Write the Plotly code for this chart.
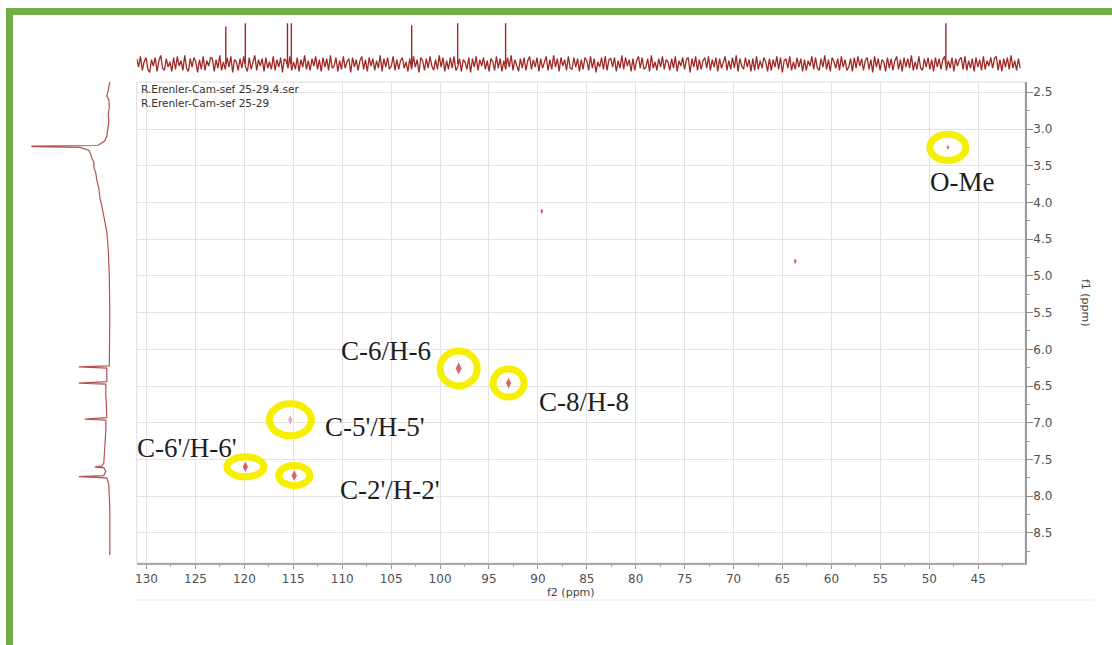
import numpy as np
import plotly.graph_objects as go

W, H = 1112, 645

# ---------------- data ----------------
peak_labels = ["O-Me", "C-6/H-6", "C-8/H-8", "C-5'/H-5'", "C-6'/H-6'", "C-2'/H-2'"]
peak_c = [48.1, 98.1, 93.0, 115.3, 119.9, 114.9]      # f2 (13C, ppm)
peak_h = [3.25, 6.26, 6.46, 6.96, 7.60, 7.72]         # f1 (1H, ppm)

weak_c = [89.6, 63.7]
weak_h = [4.12, 4.80]

c13_peaks = [121.9, 119.9, 115.6, 115.2, 102.9, 98.2, 93.3, 48.3]
c13_heights = [3.5, 3.8, 3.8, 3.8, 3.6, 3.8, 3.8, 3.8]
c13_noise = [
    0.5, -0.3, 0.7, -0.6, 0.2, 0.6, -0.5, -0.8, 0.4, -0.2, 0.6, -0.7, 0.3, 0.8, -0.4, -0.6, 0.5, -0.3, 0.2, -0.7, 0.6, -0.5, 0.7, -0.2,
    0.3, -0.6, 0.8, -0.4, -0.7, 0.5, -0.3, 0.6, 0.2, -0.8, 0.4, -0.5, 0.7, -0.6, 0.3, -0.2, 0.6, 0.5, -0.7, 0.4, -0.4, 0.8, -0.6, 0.2,
    -0.5, 0.6, -0.3, 0.7, -0.8, 0.4, 0.2, -0.6, 0.5, -0.4, 0.7, -0.3, -0.7, 0.6, -0.5, 0.3, 0.8, -0.6, 0.4, -0.2, 0.5, -0.7, 0.6, -0.4,
    0.2, -0.5, 0.7, -0.6, 0.4, -0.3, 0.6, -0.8, 0.5, 0.3, -0.4, 0.7, -0.6, 0.2, -0.5, 0.6, -0.7, 0.4, -0.3, 0.8, -0.5, 0.3, -0.6, 0.5,
    -0.2, 0.7, -0.5, 0.4, -0.7, 0.6, -0.3, 0.5, -0.6, 0.8, -0.4, -0.2, 0.6, -0.7, 0.3, -0.5, 0.7, -0.4, 0.2, 0.5, -0.8, 0.6, -0.3, 0.4,
    -0.6, 0.3, 0.7, -0.5, 0.4, -0.7, 0.6, -0.2, 0.5, -0.6, 0.3, -0.4, 0.8, -0.7, 0.5, -0.3, 0.6, -0.5, -0.2, 0.7, -0.6, 0.4, -0.5, 0.3,
    0.6, -0.4, 0.2, -0.7, 0.5, -0.5, 0.7, -0.3, 0.4, -0.8, 0.6, 0.3, -0.6, 0.5, -0.4, 0.7, -0.2, -0.6, 0.4, -0.5, 0.8, -0.3, 0.6, -0.7,
    0.3, -0.5, 0.6, -0.4, 0.7, -0.6, -0.3, 0.5, -0.7, 0.4, 0.2, -0.5, 0.6, -0.8, 0.5, -0.3, 0.7, -0.6, 0.4, -0.2, 0.6, -0.5, 0.3, -0.7,
    0.5, 0.2, -0.6, 0.7, -0.4, 0.5, -0.7, 0.3, -0.5, 0.6, -0.3, 0.8, -0.6, 0.4, -0.2, -0.7, 0.5, -0.4, 0.6, -0.6, 0.3, 0.7, -0.5, 0.4,
    -0.3, 0.6, -0.7, 0.5, -0.4, 0.2, 0.7, -0.6, 0.4, -0.5, 0.8, -0.3, 0.5, -0.7, 0.6, -0.2, 0.4, -0.6, 0.7, -0.4, -0.5, 0.6, -0.3, 0.5,
    -0.7, 0.4, -0.5, 0.6, 0.3, -0.6, 0.7, -0.4, 0.5, -0.8, 0.2, -0.3, 0.6, -0.5, 0.7, -0.6, 0.4, 0.5, -0.3, 0.6, -0.7, 0.3, -0.4, 0.8,
    -0.5, 0.6, -0.2, 0.4, -0.7, 0.5, -0.6, 0.3, 0.7, -0.4, 0.6, -0.5, -0.3, 0.5, -0.7, 0.8, -0.4, 0.2, -0.6, 0.5, -0.3, 0.7, -0.5, 0.4,
    0.2, -0.6, 0.5, -0.4, 0.7, -0.7, 0.3, -0.2, 0.6, -0.5, 0.4, 0.6, -0.8, 0.5, -0.3, 0.7, -0.6, 0.4, -0.5, 0.3, 0.6, -0.4, 0.7, -0.6,
    0.4, -0.3, 0.6, -0.7, 0.5, -0.4, 0.2, 0.7, -0.6, 0.3, -0.5, 0.6, -0.4, 0.8, -0.7, 0.5, -0.2, -0.5, 0.6, -0.3, 0.4, -0.7, 0.5, -0.6,
    0.7, -0.5, 0.3, -0.4, 0.6, 0.2, -0.7, 0.5, -0.6, 0.4, -0.3, 0.7, -0.5, 0.6, -0.8, 0.3, 0.5, -0.4, 0.7, -0.6, 0.2, -0.5, 0.6, -0.3,
    0.5, -0.7, 0.4, -0.6, 0.3, -0.2, 0.7, -0.5, 0.6, -0.4, -0.6, 0.5, -0.3, 0.8, -0.5, 0.4, -0.7, 0.6, 0.2, -0.4, 0.5, -0.6, 0.7, -0.3,
    0.4, -0.6, -0.3, 0.5, -0.7, 0.6, -0.4, 0.7, -0.2, 0.5, -0.6, 0.3, 0.6, -0.5, 0.4, -0.8, 0.7, -0.3, 0.5, -0.6, 0.4, 0.2, -0.7, 0.6,
    -0.4, 0.5, -0.6, 0.3, 0.7, -0.5, 0.4, -0.7, 0.6, -0.3, 0.5, -0.4, 0.8, -0.6, 0.2, -0.5, 0.7, -0.4, -0.6, 0.5, -0.3, 0.6, -0.5, 0.4,
    -0.7, 0.6, -0.3, 0.5, -0.5, 0.4, 0.7, -0.6, 0.3, -0.4, 0.6, -0.7, 0.5, -0.2, 0.4, 0.6, -0.5, 0.7, -0.6, 0.3, -0.4, 0.5, -0.7, 0.6,
    -0.3, 0.4, -0.6, 0.7, -0.5, 0.3, -0.2, 0.6, -0.4, 0.5, 0.7, -0.6, 0.4, -0.7, 0.5, -0.3, 0.6, -0.5, 0.8, -0.4, 0.3, -0.6, 0.5, -0.4,
]

h1_ppm = [2.36, 2.45, 2.50, 2.55, 2.60, 2.70, 2.80, 2.90, 3.00, 3.10, 3.16, 3.20, 3.225, 3.232, 3.242, 3.25,
          3.29, 3.35, 3.40, 3.45, 3.52, 3.60, 3.70, 3.80, 3.93, 4.05, 4.24, 4.40, 4.65, 5.00, 5.50, 6.00,
          6.20, 6.225, 6.24, 6.255, 6.35, 6.44, 6.46, 6.475, 6.60, 6.80, 6.93, 6.95, 6.965, 7.10, 7.30,
          7.45, 7.55, 7.59, 7.60, 7.615, 7.66, 7.72, 7.735, 7.75, 7.85, 8.00, 8.20, 8.80]
h1_int = [0, 1, 2, 3, 1, 0.5, 1.5, 1, 2, 3, 5, 9, 12, 78, 78, 30,
          21, 19, 18, 16, 16, 14, 13, 11, 10, 8, 5, 3, 1.5, 0.5, 0, 0,
          0.5, 0.5, 31, 3, 3, 3, 31, 4, 4, 3, 3, 25, 4, 4, 5,
          5, 6, 8, 15, 6, 4, 6, 31, 3, 1, 0.5, 0, 0]

x_ticks = [130, 125, 120, 115, 110, 105, 100, 95, 90, 85, 80, 75, 70, 65, 60, 55, 50, 45]
y_ticks = [2.5, 3.0, 3.5, 4.0, 4.5, 5.0, 5.5, 6.0, 6.5, 7.0, 7.5, 8.0, 8.5]
dataset_lines = ["R.Erenler-Cam-sef 25-29.4.ser", "R.Erenler-Cam-sef 25-29"]

# ---------------- layout helpers ----------------
def px(x):
    return x / W


def py(y):
    return 1 - y / H


X_RANGE = [131.0, 40.2]
Y_RANGE = [8.91, 2.36]
X_DOM = [px(135), px(1025)]
Y_DOM = [py(563), py(82)]

label_x = [46.7, 105.5, 85.3, 106.6, 125.9, 105.1]
label_y = [3.72, 6.02, 6.72, 7.06, 7.34, 7.92]
ring_w = [36, 37, 31, 42, 37, 31]
ring_h = [26, 35, 28, 32, 20, 20]
spot_size = [5, 10, 9, 8, 9, 9]
spot_col = ["#c8282e", "#c8282e", "#c8282e", "#e58a98", "#c8282e", "#c8282e"]

SPEC = "#a02828"

fig = go.Figure()

# top 13C projection
noise_x = np.linspace(131.0, 40.7, len(c13_noise))
fig.add_trace(go.Scatter(x=noise_x, y=c13_noise, mode="lines",
                         line=dict(color=SPEC, width=1.3), xaxis="x2", yaxis="y2",
                         hoverinfo="skip", showlegend=False))
pk_x, pk_y = [], []
for c, h in zip(c13_peaks, c13_heights):
    pk_x += [c, c, None]
    pk_y += [0, h, None]
fig.add_trace(go.Scatter(x=pk_x, y=pk_y, mode="lines",
                         line=dict(color=SPEC, width=1.4), xaxis="x2", yaxis="y2",
                         hoverinfo="skip", showlegend=False))

# left 1H projection
fig.add_trace(go.Scatter(x=h1_int, y=h1_ppm, mode="lines",
                         line=dict(color="#b8504f", width=1.2), xaxis="x3", yaxis="y3",
                         hoverinfo="skip", showlegend=False))

# cross peaks
fig.add_trace(go.Scatter(x=peak_c, y=peak_h, mode="markers",
                         marker=dict(symbol="diamond-tall", size=spot_size, color=spot_col),
                         showlegend=False, hoverinfo="skip"))
fig.add_trace(go.Scatter(x=weak_c, y=weak_h, mode="markers",
                         marker=dict(symbol="diamond-tall", size=4, color="#e05050"),
                         showlegend=False, hoverinfo="skip"))

shapes = []
# outer green frame
shapes.append(dict(type="rect", xref="paper", yref="paper",
                   x0=px(7.5), x1=1.05, y0=-0.05, y1=py(11.5),
                   line=dict(color="#70ad47", width=7), layer="below"))
# plot box
shapes.append(dict(type="rect", xref="paper", yref="paper",
                   x0=X_DOM[0], x1=X_DOM[1], y0=Y_DOM[0], y1=Y_DOM[1],
                   line=dict(color="#dcdcdc", width=1), layer="below"))
# faint divider under the axis
shapes.append(dict(type="line", xref="paper", yref="paper",
                   x0=px(133), x1=px(1093), y0=py(600), y1=py(600),
                   line=dict(color="#f0f0f0", width=1.5), layer="below"))
# yellow rings
for c, h, w, hh in zip(peak_c, peak_h, ring_w, ring_h):
    shapes.append(dict(type="circle", xref="x", yref="y",
                       xsizemode="pixel", ysizemode="pixel",
                       xanchor=c, yanchor=h,
                       x0=-w / 2, x1=w / 2, y0=-hh / 2, y1=hh / 2,
                       line=dict(color="#f7ef00", width=7), layer="above"))

annotations = []
for t, lx, ly in zip(peak_labels, label_x, label_y):
    annotations.append(dict(x=lx, y=ly, xref="x", yref="y", text=t, showarrow=False,
                            font=dict(family="Liberation Serif", size=27, color="#1e1e1e"),
                            xanchor="center", yanchor="middle"))
for i, t in enumerate(dataset_lines):
    annotations.append(dict(x=px(137), y=py(89 + 13.5 * i), xref="paper", yref="paper",
                            text=t, showarrow=False, xanchor="left", yanchor="middle",
                            font=dict(family="DejaVu Sans", size=10.5, color="#333333")))
annotations.append(dict(x=px(570), y=py(592), xref="paper", yref="paper", text="f2 (ppm)",
                        showarrow=False, xanchor="center", yanchor="middle",
                        font=dict(family="DejaVu Sans", size=11, color="#444444")))
annotations.append(dict(x=px(1086), y=py(303), xref="paper", yref="paper", text="f1 (ppm)",
                        showarrow=False, xanchor="center", yanchor="middle", textangle=90,
                        font=dict(family="DejaVu Sans", size=11, color="#444444")))

tickfont = dict(family="DejaVu Sans", size=12, color="#505050")

fig.update_layout(
    width=W, height=H,
    margin=dict(l=0, r=0, t=0, b=0),
    paper_bgcolor="white", plot_bgcolor="white",
    showlegend=False,
    shapes=shapes,
    annotations=annotations,
    xaxis=dict(domain=X_DOM, range=X_RANGE, anchor="y",
               tickvals=x_ticks, ticktext=[str(v) for v in x_ticks],
               tickfont=tickfont, ticks="outside", ticklen=4, tickcolor="#999999",
               showline=True, linecolor="#a8a8a8", linewidth=1.5,
               showgrid=True, gridcolor="#e3e3e3", gridwidth=1, zeroline=False,
               minor=dict(dtick=2.5, tick0=0, ticks="outside", ticklen=2, tickcolor="#aaaaaa",
                          showgrid=False)),
    yaxis=dict(domain=Y_DOM, range=Y_RANGE, anchor="x", side="right",
               tickvals=y_ticks, ticktext=[f"{v:.1f}" for v in y_ticks],
               tickfont=tickfont, ticks="outside", ticklen=6, tickcolor="#888888",
               ticklabelstandoff=-2,
               showline=True, linecolor="#999999", linewidth=1.5,
               showgrid=True, gridcolor="#e3e3e3", gridwidth=1, zeroline=False,
               minor=dict(dtick=0.25, tick0=0, ticks="outside", ticklen=3, tickcolor="#999999",
                          showgrid=False)),
    xaxis2=dict(domain=X_DOM, range=X_RANGE, anchor="y2", visible=False),
    yaxis2=dict(domain=[py(80), py(20)], range=[-1.5, 4.1], anchor="x2", visible=False),
    xaxis3=dict(domain=[px(20), px(115)], range=[88, -7], anchor="y3", visible=False),
    yaxis3=dict(domain=Y_DOM, range=Y_RANGE, anchor="x3", visible=False),
)

fig.write_html("out.html", config={"displayModeBar": False},
               post_script="document.body.style.margin='0';")
